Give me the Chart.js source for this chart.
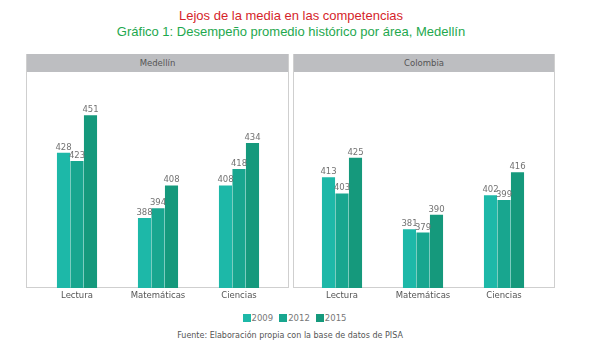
<!DOCTYPE html>
<html><head><meta charset="utf-8">
<script src="https://cdn.jsdelivr.net/npm/chart.js@4.4.0/dist/chart.umd.min.js"></script>
<style>
html,body{margin:0;padding:0;background:#fff;width:589px;height:351px;overflow:hidden;position:relative;font-family:"Liberation Sans",Arial,sans-serif;}
.t1{position:absolute;left:0;width:582px;top:8px;text-align:center;color:#d51f2b;font-size:13px;}
.t2{position:absolute;left:0;width:582px;top:24px;text-align:center;color:#1ea84e;font-size:13px;}
.panel{position:absolute;top:54px;height:233px;border:1px solid #cfcfcf;border-top:none;box-sizing:content-box;}
.hdr{position:absolute;left:0;right:0;top:0;height:18px;background:#bdbec1;color:#555;font-family:"DejaVu Sans",sans-serif;font-size:8.5px;line-height:18px;text-align:center;}
.cv{position:absolute;top:73px;height:240px;}
#legend{position:absolute;top:313px;left:0;width:589px;text-align:center;font-family:"DejaVu Sans",sans-serif;font-size:8.5px;color:#777;}
#legend span.it{display:inline-block;margin:0 3px;}
#legend i{display:inline-block;width:8px;height:8px;vertical-align:-1px;margin-right:1px;}
.foot{position:absolute;top:331px;left:0;width:580px;text-align:center;font-family:"DejaVu Sans",sans-serif;font-size:8px;color:#555;}
</style></head>
<body>
<div class="t1">Lejos de la media en las competencias</div>
<div class="t2">Gráfico 1: Desempeño promedio histórico por área, Medellín</div>
<div class="panel" style="left:26px;width:261px;"><div class="hdr">Medellín</div></div>
<div class="panel" style="left:293px;width:260px;"><div class="hdr">Colombia</div></div>
<div class="cv" style="left:26px;width:262px;"><canvas id="c1" width="262" height="240"></canvas></div>
<div class="cv" style="left:293px;width:261px;"><canvas id="c2" width="261" height="240"></canvas></div>
<div id="legend"></div>
<div class="foot">Fuente: Elaboración propia con la base de datos de PISA</div>
<script>
const categories = ["Lectura", "Matemáticas", "Ciencias"];
const years = ["2009", "2012", "2015"];
const colors = ["#1db8a8", "#18a68f", "#15997c"];
const medellin2009 = [428, 388, 408];
const medellin2012 = [423, 394, 418];
const medellin2015 = [451, 408, 434];
const colombia2009 = [413, 381, 402];
const colombia2012 = [403, 379, 399];
const colombia2015 = [425, 390, 416];
const yMin = 345, yMax = 477;

const labelPlugin = {
  id: 'vlabels',
  afterDatasetsDraw(chart) {
    const ctx = chart.ctx;
    ctx.save();
    ctx.font = '8.5px "DejaVu Sans", sans-serif';
    ctx.fillStyle = '#737373';
    ctx.textAlign = 'center';
    ctx.textBaseline = 'bottom';
    chart.data.datasets.forEach((ds, i) => {
      chart.getDatasetMeta(i).data.forEach((bar, j) => {
        ctx.fillText(String(ds.data[j]), bar.x, bar.y - 1);
      });
    });
    ctx.restore();
  }
};

function makeChart(id, series, padL, padR) {
  return new Chart(document.getElementById(id), {
    type: 'bar',
    data: {
      labels: categories,
      datasets: series.map((d, i) => ({
        label: years[i], data: d, backgroundColor: colors[i],
        borderWidth: 0, categoryPercentage: 0.5, barPercentage: 0.97
      }))
    },
    options: {
      responsive: false, animation: false,
      layout: { padding: { left: padL, right: padR, top: 0, bottom: 0 } },
      plugins: { legend: { display: false }, tooltip: { enabled: false } },
      scales: {
        x: {
          grid: { display: false, drawTicks: false },
          border: { display: false },
          ticks: { color: '#555', padding: 3, font: { family: '"DejaVu Sans", sans-serif', size: 8.5 } },
          afterFit(s) { s.height = 25; }
        },
        y: { display: false, min: yMin, max: yMax }
      }
    },
    plugins: [labelPlugin]
  });
}
makeChart('c1', [medellin2009, medellin2012, medellin2015], 10.5, 8.5);
makeChart('c2', [colombia2009, colombia2012, colombia2015], 8.5, 9.5);

const lg = document.getElementById('legend');
years.forEach((y, i) => {
  const s = document.createElement('span'); s.className = 'it';
  const sw = document.createElement('i'); sw.style.background = colors[i];
  s.appendChild(sw); s.appendChild(document.createTextNode(y));
  lg.appendChild(s);
});
</script>
</body></html>
